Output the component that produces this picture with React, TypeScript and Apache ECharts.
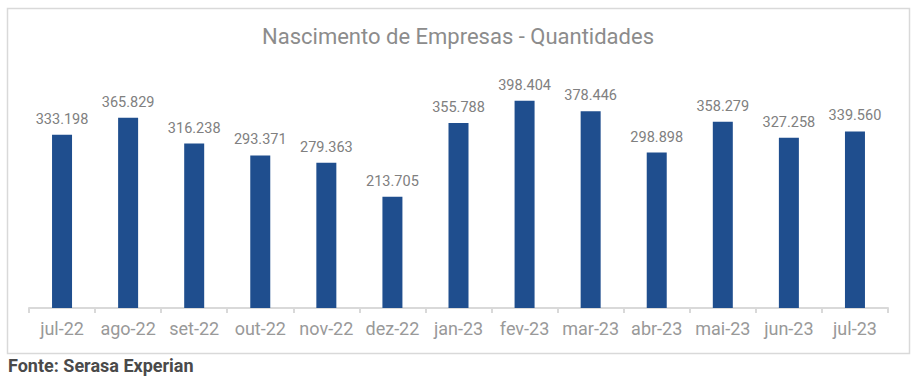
import React, { useEffect, useRef } from "react";
import * as echarts from "echarts";

const categories = ["jul-22", "ago-22", "set-22", "out-22", "nov-22", "dez-22", "jan-23", "fev-23", "mar-23", "abr-23", "mai-23", "jun-23", "jul-23"];
const values = [333198, 365829, 316238, 293371, 279363, 213705, 355788, 398404, 378446, 298898, 358279, 327258, 339560];
const titleText = "Nascimento de Empresas - Quantidades";
const sourceText = "Fonte: Serasa Experian";

const fmt = (v: number) => {
  const s = String(Math.round(v));
  return s.replace(/\B(?=(\d{3})+(?!\d))/g, ".");
};

export default function App() {
  const ref = useRef<HTMLDivElement>(null);
  useEffect(() => {
    if (!ref.current) return;
    const chart = echarts.init(ref.current, null, { renderer: "svg" });
    chart.setOption({
      animation: false,
      backgroundColor: "#ffffff",
      textStyle: { fontFamily: "Roboto" },
      title: {
        text: titleText,
        left: "center",
        top: 20,
        textStyle: { fontFamily: "Roboto", fontSize: 22, fontWeight: "normal", color: "#8c8c8c" },
      },
      graphic: [
        {
          type: "rect",
          shape: { x: 7.5, y: 8.5, width: 902, height: 345 },
          style: { fill: "none", stroke: "#d9d9d9", lineWidth: 1.5 },
          silent: true,
        },
        {
          type: "text",
          left: 8,
          top: 356,
          style: { text: sourceText, fontFamily: "Roboto", fontSize: 18, fontWeight: "bold", fill: "#4a4a4a" },
        },
      ],
      grid: { left: 29, right: 28, top: 74, bottom: 76, containLabel: false },
      xAxis: {
        type: "category",
        data: categories,
        axisLine: { lineStyle: { color: "#d9d9d9", width: 2 } },
        axisTick: { show: true, length: 5, lineStyle: { color: "#d9d9d9", width: 2 } },
        axisLabel: { interval: 0, fontFamily: "Roboto", fontSize: 18, color: "#999999", margin: 11 },
      },
      yAxis: {
        type: "value",
        min: 0,
        max: 450000,
        show: false,
        splitLine: { show: false },
      },
      series: [
        {
          type: "bar",
          data: values,
          barWidth: 20,
          itemStyle: { color: "#1f4e8e" },
          label: {
            show: true,
            position: "top",
            distance: 8,
            fontFamily: "Roboto",
            fontSize: 14.5,
            color: "#808080",
            formatter: (p: any) => fmt(p.value),
          },
        },
      ],
    });
    return () => chart.dispose();
  }, []);
  return <div ref={ref} style={{ position: "absolute", left: 0, top: 0, width: 916, height: 384 }} />;
}
